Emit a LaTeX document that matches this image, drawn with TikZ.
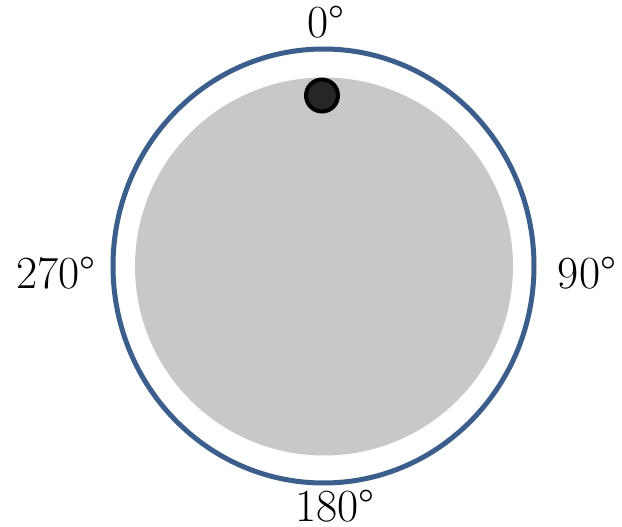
\documentclass[tikz,border=0pt]{standalone}
\usepackage{fontspec}
\definecolor{ringblue}{HTML}{3B5E8C}
\definecolor{discgray}{HTML}{C8C8C8}
\definecolor{dotfill}{HTML}{262626}
\begin{document}
\begin{tikzpicture}[x=1pt,y=-1pt,
  lbl/.style={anchor=base,inner sep=0pt,font=\fontsize{46}{54}\selectfont}]
\useasboundingbox (0,0) rectangle (622,527);
\fill[discgray] (324,266.5) circle (189);
\draw[ringblue,line width=5pt] (323.5,266) ellipse (210.5 and 217);
\node[circle,draw=black,fill=dotfill,line width=4pt,minimum size=32pt,inner sep=0pt] (dot) at (322,95.5) {};
\node[lbl] (a0) at (326,38) {0°};
\node[lbl] (a90) at (587,288) {90°};
\node[lbl] (a180) at (335,521) {180°};
\node[lbl] (a270) at (56,288) {270°};
\end{tikzpicture}
\end{document}
